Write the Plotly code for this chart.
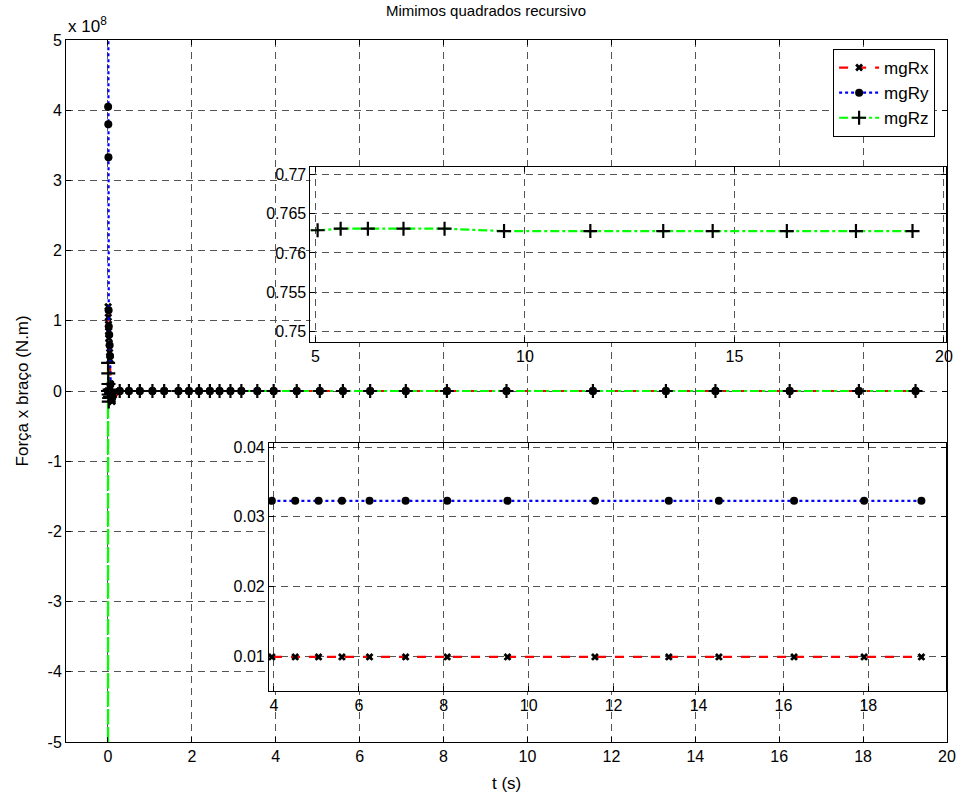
import plotly.graph_objects as go

# ---- data ----
t = [0.0, 0.002, 0.004, 0.008, 0.012, 0.016, 0.02, 0.03, 0.04, 0.05, 0.06, 0.08, 0.1,
     0.28, 0.5, 0.76, 1.06, 1.34, 1.68, 1.93, 2.17, 2.43, 2.66, 2.92, 3.18, 3.56,
     3.95, 4.5, 5.05, 5.6, 6.25, 7.1, 8.08, 9.5, 11.56, 13.3, 14.48, 16.25, 17.9, 19.25]

mgRx = [0.0, 0.0, 1.2e8, 1.05e8, 0.95e8, 0.85e8, 0.75e8, 0.68e8, 0.55e8, 0.45e8, 0.1e8, -0.1e8, -0.15e8,
        0.0099, 0.0099, 0.0099, 0.0099, 0.0099, 0.0099, 0.0099, 0.0099, 0.0099, 0.0099, 0.0099, 0.0099, 0.0099,
        0.0099, 0.0099, 0.0099, 0.0099, 0.0099, 0.0099, 0.0099, 0.0099, 0.0099, 0.0099, 0.0099, 0.0099, 0.0099, 0.0099]

mgRy = [9.0e8, 9.0e8, 4.05e8, 3.8e8, 3.33e8, 1.15e8, 0.92e8, 0.8e8, 0.65e8, 0.5e8, 0.1e8, -0.12e8, -0.05e8,
        0.0323, 0.0323, 0.0323, 0.0323, 0.0323, 0.0323, 0.0323, 0.0323, 0.0323, 0.0323, 0.0323, 0.0323, 0.0323,
        0.0323, 0.0323, 0.0323, 0.0323, 0.0323, 0.0323, 0.0323, 0.0323, 0.0323, 0.0323, 0.0323, 0.0323, 0.0323, 0.0323]

mgRz = [0.0, -9.0e8, 0.4e8, 0.25e8, 0.1e8, -0.05e8, -0.15e8, -0.1e8, 0.02e8, -0.08e8, 0.0, -0.03e8, 0.01e8,
        0.7629, 0.7629, 0.7629, 0.7629, 0.7629, 0.7629, 0.7629, 0.7629, 0.7629, 0.7629, 0.7629, 0.7629, 0.7629,
        0.7629, 0.7629, 0.7629, 0.7631, 0.7631, 0.7631, 0.7631, 0.7628, 0.7628, 0.7628, 0.7628, 0.7628, 0.7628, 0.7628]

main_xticks = [0, 2, 4, 6, 8, 10, 12, 14, 16, 18, 20]
main_yticks = [-5e8, -4e8, -3e8, -2e8, -1e8, 0, 1e8, 2e8, 3e8, 4e8, 5e8]
main_yticktext = ["-5", "-4", "-3", "-2", "-1", "0", "1", "2", "3", "4", "5"]
in1_xticks = [5, 10, 15, 20]
in1_yticks = [0.75, 0.755, 0.76, 0.765, 0.77]
in1_yticktext = ["0.75", "0.755", "0.76", "0.765", "0.77"]
in2_xticks = [4, 6, 8, 10, 12, 14, 16, 18]
in2_yticks = [0.01, 0.02, 0.03, 0.04]
in2_yticktext = ["0.01", "0.02", "0.03", "0.04"]

names = ["mgRx", "mgRy", "mgRz"]
series = [mgRx, mgRy, mgRz]
colors = ["#ff0000", "#0000ff", "#00ff00"]
dashes = ["dash", "dot", "dashdot"]
markers = [dict(symbol="x", size=7, color="black"),
           dict(symbol="circle", size=8, color="black"),
           dict(symbol="cross-thin", size=10, color="black", line=dict(color="black", width=2.2))]

FONT = "Liberation Sans, Arial, sans-serif"
FS = 16
fig = go.Figure()

axes_pairs = [("x", "y"), ("x2", "y2"), ("x3", "y3")]
for k, (xa, ya) in enumerate(axes_pairs):
    for i in range(3):
        fig.add_trace(go.Scatter(
            x=t, y=series[i], mode="lines+markers", name=names[i],
            line=dict(color=colors[i], width=2.2, dash=dashes[i]),
            marker=markers[i], xaxis=xa, yaxis=ya,
            showlegend=(k == 0)))

GRID = dict(showgrid=True, gridcolor="#555555", gridwidth=1, griddash="7px,5px",
            zeroline=False, showline=True, linecolor="black", linewidth=1,
            mirror="ticks", ticks="inside", ticklen=5, tickcolor="black",
            tickfont=dict(family=FONT, size=FS, color="black"))

fig.update_layout(
    width=968, height=796,
    margin=dict(l=66, r=12, t=40, b=54),
    paper_bgcolor="white", plot_bgcolor="white",
    font=dict(family=FONT, size=FS, color="black"),
    xaxis=dict(domain=[0, 1], range=[-1, 20], tickvals=main_xticks, **GRID),
    yaxis=dict(domain=[0, 1], range=[-5e8, 5e8], tickvals=main_yticks,
               ticktext=main_yticktext, **GRID),
    xaxis2=dict(domain=[0.2775, 0.9989], range=[4.88, 20.05], tickvals=in1_xticks,
                anchor="y2", **GRID),
    yaxis2=dict(domain=[0.5698, 0.8191], range=[0.7486, 0.771], tickvals=in1_yticks,
                ticktext=in1_yticktext, anchor="x2", **GRID),
    xaxis3=dict(domain=[0.2303, 0.9989], range=[3.88, 19.83], tickvals=in2_xticks,
                anchor="y3", **GRID),
    yaxis3=dict(domain=[0.0726, 0.4259], range=[0.005, 0.0406], tickvals=in2_yticks,
                ticktext=in2_yticktext, anchor="x3", **GRID),
    legend=dict(x=0.9865, y=(742 - 49) / 702, xanchor="right", yanchor="top",
                bgcolor="white", bordercolor="black", borderwidth=1,
                font=dict(family=FONT, size=17, color="black"),
                itemwidth=40, tracegroupgap=0),
    showlegend=True,
    title=dict(text="Mimimos quadrados recursivo", x=486 / 968, xref="container",
               xanchor="center", y=1 - 11 / 796, yanchor="middle",
               font=dict(family=FONT, size=15, color="black")),
)

fig.add_annotation(text="x 10<sup>8</sup>", xref="paper", yref="paper",
                   x=0.0, y=1.0, xanchor="left", yanchor="bottom", yshift=2,
                   showarrow=False, font=dict(family=FONT, size=17, color="black"))
fig.add_annotation(text="Força x braço (N.m)", xref="paper", yref="paper",
                   x=(22 - 66) / 890, y=0.5, xanchor="center", yanchor="middle",
                   textangle=-90, showarrow=False,
                   font=dict(family=FONT, size=17, color="black"))
fig.add_annotation(text="t (s)", xref="paper", yref="paper",
                   x=0.5, y=(742 - 783) / 702, xanchor="center", yanchor="middle",
                   showarrow=False, font=dict(family=FONT, size=17, color="black"))

fig.write_html("out.html")
